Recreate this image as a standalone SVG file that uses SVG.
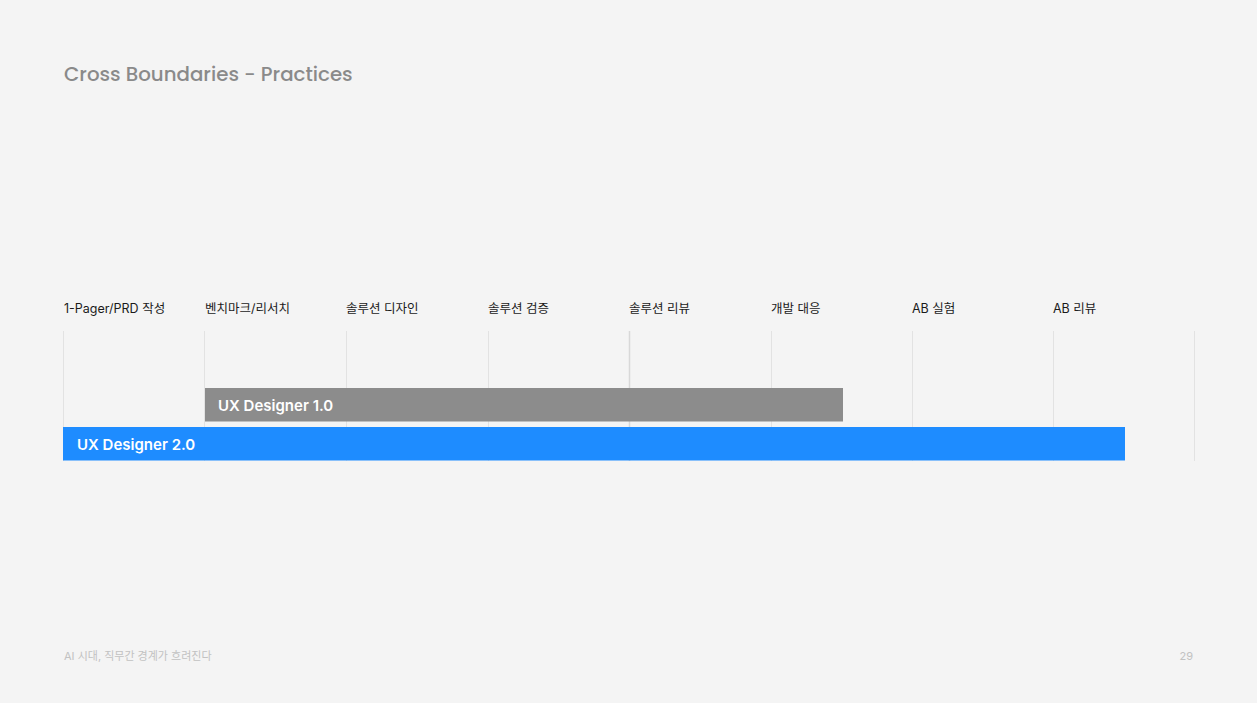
<svg xmlns="http://www.w3.org/2000/svg" width="1257" height="703" viewBox="0 0 1257 703">
<style>
.title{font-family:Poppins,"Lato","Open Sans",sans-serif;font-size:19.8px;fill:#8a8a8a;font-weight:500}
.lbl{font-family:Inter,"Noto Sans CJK KR",sans-serif;font-size:12.5px;fill:#1a1a1a}
.bar{font-family:Inter,"Noto Sans CJK KR",sans-serif;font-size:15px;font-weight:600;fill:#ffffff}
.foot{font-family:Inter,"Noto Sans CJK KR",sans-serif;font-size:11px;fill:#c2c2c2}
.grid line{stroke:#e2e2e2;stroke-width:1}
</style>
<rect width="1257" height="703" fill="#f4f4f4"/>
<text class="title" x="64" y="81">Cross Boundaries - Practices</text>
<g id="labels">
<text class="lbl" x="64" y="313">1-Pager/PRD 작성</text>
<text class="lbl" x="205" y="313">벤치마크/리서치</text>
<text class="lbl" x="346" y="313">솔루션 디자인</text>
<text class="lbl" x="488" y="313">솔루션 검증</text>
<text class="lbl" x="629" y="313">솔루션 리뷰</text>
<text class="lbl" x="771" y="313">개발 대응</text>
<text class="lbl" x="912" y="313">AB 실험</text>
<text class="lbl" x="1053" y="313">AB 리뷰</text>
</g>
<g class="grid" id="grid">
<line x1="63.5" y1="331" x2="63.5" y2="461"/>
<line x1="204.5" y1="331" x2="204.5" y2="461"/>
<line x1="346.5" y1="331" x2="346.5" y2="461"/>
<line x1="488.5" y1="331" x2="488.5" y2="461"/>
<line x1="629.5" y1="331" x2="629.5" y2="461" style="stroke:#d8d8d8;stroke-width:1.5"/>
<line x1="771.5" y1="331" x2="771.5" y2="461"/>
<line x1="912.5" y1="331" x2="912.5" y2="461"/>
<line x1="1053.5" y1="331" x2="1053.5" y2="461"/>
<line x1="1194.5" y1="331" x2="1194.5" y2="461"/>
</g>
<g id="ux1">
<rect x="205" y="388" width="638" height="33.5" fill="#8c8c8c"/>
<text class="bar" x="218" y="411">UX Designer 1.0</text>
</g>
<g id="ux2">
<rect x="63" y="427" width="1062" height="33.5" fill="#1e8cff"/>
<text class="bar" x="77" y="450">UX Designer 2.0</text>
</g>
<text class="foot" x="64" y="660">AI 시대, 직무간 경계가 흐려진다</text>
<text class="foot" x="1193" y="660" text-anchor="end">29</text>
</svg>
